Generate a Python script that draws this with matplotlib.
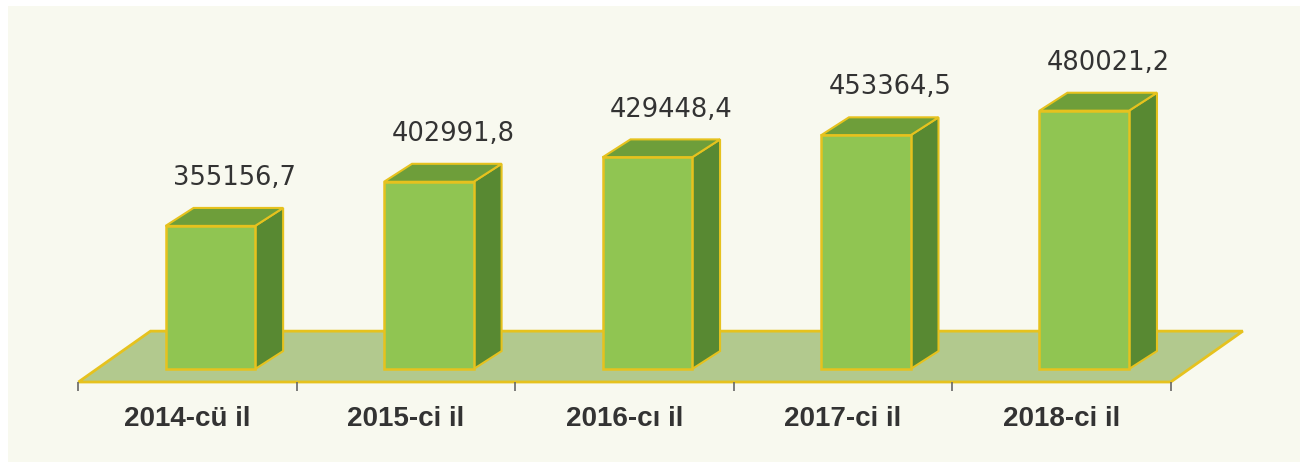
import matplotlib.pyplot as plt
from matplotlib.patches import Polygon, Rectangle

# Ümumi göstəricilər, illər üzrə
illər = ['2014-cü il', '2015-ci il', '2016-cı il', '2017-ci il', '2018-ci il']
dəyərlər = [355156.7, 402991.8, 429448.4, 453364.5, 480021.2]

# Diaqramın rəngləri
ön_rəng = '#90c552'
üst_rəng = '#6e9e3a'
yan_rəng = '#588932'
kənar_rəng = '#e6c21e'
döşəmə_rəng = '#b2c98e'
fon_rəng = '#f8f9ef'

baza = 200000          # sütunların oturduğu səviyyə
döşəmə_alt = 185946    # döşəmənin ön kənarı
en = 0.41              # sütunun eni
sürüşmə = 0.104        # sütunların döşəmə üzərində sağa sürüşməsi
dx, dy = 0.128, 19460  # sütunun dərinliyi
fdx, fdy = 0.33, 55130 # döşəmənin dərinliyi

fig = plt.figure(figsize=(13.04, 4.65), dpi=100)
fig.patch.set_facecolor('white')
fig.patches.append(Rectangle((8 / 1304, 3 / 465), 1292 / 1304, 456 / 465,
                             transform=fig.transFigure, facecolor=fon_rəng,
                             edgecolor='none', zorder=-1))

ax = fig.add_axes([0, 83 / 465, 1, 382 / 465])
ax.set_zorder(1)
ax.patch.set_visible(False)
ax.set_xlim(-0.859, 5.11)
ax.set_ylim(döşəmə_alt, 600000)
for s in ax.spines.values():
    s.set_visible(False)
ax.set_yticks([])

# Döşəmə
n = len(illər)
döşəmə = Polygon([(-0.5, döşəmə_alt), (n - 0.5, döşəmə_alt),
                  (n - 0.5 + fdx, döşəmə_alt + fdy), (-0.5 + fdx, döşəmə_alt + fdy)],
                 closed=True, facecolor=döşəmə_rəng, edgecolor=kənar_rəng,
                 linewidth=2, zorder=1, clip_on=False)
ax.add_patch(döşəmə)

# Sütunlar: ön üz, yan və üst hissə
xs = [i + sürüşmə for i in range(n)]
ax.bar(xs, [v - baza for v in dəyərlər], bottom=baza, width=en,
       color=ön_rəng, edgecolor=kənar_rəng, linewidth=1.8, zorder=3)
for x, v in zip(xs, dəyərlər):
    sol, sağ = x - en / 2, x + en / 2
    yan = Polygon([(sağ, baza), (sağ + dx, baza + dy), (sağ + dx, v + dy), (sağ, v)],
                  closed=True, facecolor=yan_rəng, edgecolor=kənar_rəng,
                  linewidth=1.5, zorder=2)
    üst = Polygon([(sol, v), (sağ, v), (sağ + dx, v + dy), (sol + dx, v + dy)],
                  closed=True, facecolor=üst_rəng, edgecolor=kənar_rəng,
                  linewidth=1.5, zorder=2)
    ax.add_patch(yan)
    ax.add_patch(üst)
    ax.text(x + 0.11, v + dy + 32400, f'{v:.1f}'.replace('.', ','),
            ha='center', va='center', fontsize=18.5, color='#333333',
            family='DejaVu Sans', zorder=4)

# Kateqoriya yazıları və bölgü işarələri
ax.set_xticks(range(n))
ax.set_xticklabels(illər, fontsize=20, fontweight='bold', color='#333333',
                   family='Liberation Sans')
ax.tick_params(axis='x', which='major', length=0, pad=17)
ax.set_xticks([i - 0.5 for i in range(n + 1)], minor=True)
ax.tick_params(axis='x', which='minor', length=6.5, width=1.2, color='#666666')

fig.savefig('out.png', dpi=100)
